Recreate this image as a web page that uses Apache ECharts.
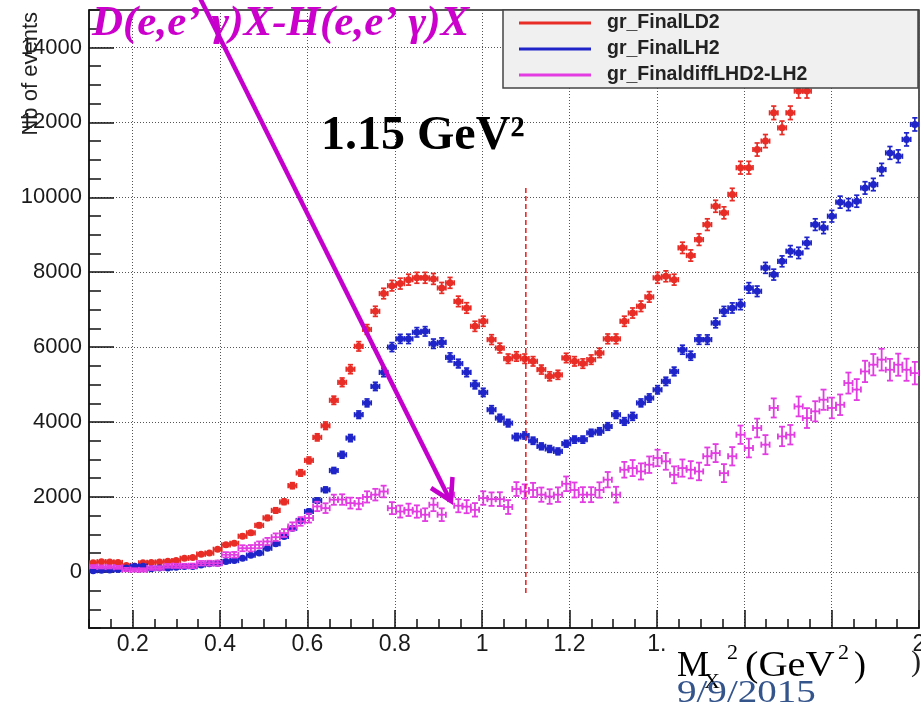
<!DOCTYPE html>
<html><head><meta charset="utf-8">
<script src="https://cdn.jsdelivr.net/npm/echarts@6/dist/echarts.min.js"></script>
<style>html,body{margin:0;padding:0;background:#fff}#c{width:921px;height:707px}</style>
</head><body><div id="c"></div>
<script>
// Bin centres of M_X^2 (GeV^2)
const binCenters = [0.1095,0.1285,0.1475,0.1665,0.1855,0.2045,0.2235,0.2425,0.2615,0.2805,
0.2995,0.3185,0.3375,0.3565,0.3755,0.3945,0.4135,0.4325,0.4515,0.4705,
0.4895,0.5085,0.5275,0.5465,0.5655,0.5845,0.6035,0.6225,0.6415,0.6605,
0.6795,0.6985,0.7175,0.7365,0.7555,0.7745,0.7935,0.8125,0.8315,0.8505,
0.8695,0.8885,0.9075,0.9265,0.9455,0.9645,0.9835,1.0025,1.0215,1.0405,
1.0595,1.0785,1.0975,1.1165,1.1355,1.1545,1.1735,1.1925,1.2115,1.2305,
1.2495,1.2685,1.2875,1.3065,1.3255,1.3445,1.3635,1.3825,1.4015,1.4205,
1.4395,1.4585,1.4775,1.4965,1.5155,1.5345,1.5535,1.5725,1.5915,1.6105,
1.6295,1.6485,1.6675,1.6865,1.7055,1.7245,1.7435,1.7625,1.7815,1.8005,
1.8195,1.8385,1.8575,1.8765,1.8955,1.9145,1.9335,1.9525,1.9715,1.9905];
const binHalfWidth = 0.0095;

const ld2 = [240,270,260,250,170,150,240,250,260,280,
300,360,380,470,500,600,720,760,950,1040,
1240,1440,1640,1870,2300,2640,2975,3590,3900,4580,
5060,5410,6020,6470,6955,7430,7640,7695,7800,7850,
7850,7820,7580,7715,7220,7045,6555,6690,6200,5975,
5690,5750,5690,5620,5400,5220,5260,5710,5620,5560,
5665,5845,6220,6220,6690,6910,7090,7340,7850,7890,
7800,8650,8445,8870,9270,9760,9585,10075,10790,10790,
11275,11500,12255,11855,12255,12835,12835,13555,13780,13870,
14330,14845,14760,15600,15870,16405,16580,16625,16940,17250];
const ld2Err = [25,25,25,25,20,20,25,25,25,25,
30,30,30,35,35,40,45,45,50,55,
60,65,70,75,80,85,90,95,100,110,
115,120,125,130,135,140,140,145,145,145,
145,145,145,145,140,140,135,135,130,130,
125,125,125,125,120,120,120,125,125,125,
125,125,130,130,135,135,140,140,145,145,
145,150,150,155,155,160,160,165,170,170,
175,175,180,180,180,185,185,190,190,195,
195,200,200,205,205,210,210,215,215,220];

const lh2 = [30,40,50,60,100,150,150,80,100,100,
120,140,140,185,215,230,275,300,365,445,
500,630,750,945,1165,1370,1610,1905,2190,2705,
3125,3570,4195,4510,4950,5325,6000,6220,6220,6395,
6420,6090,6125,5725,5560,5325,4995,4790,4330,4105,
3970,3600,3640,3500,3350,3280,3215,3420,3530,3530,
3710,3750,3880,4195,4015,4150,4510,4640,4860,5085,
5350,5930,5770,6200,6200,6645,6955,7045,7135,7580,
7490,8115,7935,8290,8560,8515,8780,9270,9185,9495,
9870,9805,9895,10250,10340,10740,11185,11095,11545,11945];
const lh2Err = [15,15,15,15,15,20,20,15,15,15,
20,20,20,20,25,25,25,30,30,35,
35,40,45,50,55,60,65,70,75,80,
90,95,100,105,110,115,120,120,125,125,
125,125,120,120,115,115,110,110,105,100,
100,95,95,95,90,90,90,90,95,95,
95,95,100,100,100,105,105,110,110,110,
115,120,120,125,125,130,130,135,135,140,
140,145,145,145,150,150,150,155,155,155,
160,160,160,165,165,165,170,170,175,175];

const diffLD2LH2 = [140,130,130,120,60,50,50,100,100,160,
160,160,160,230,230,230,455,455,630,630,
720,810,925,1035,1210,1345,1435,1745,1700,1925,
1930,1835,1820,2000,2060,2145,1700,1610,1655,1610,
1525,1790,1525,2060,1765,1740,1655,1970,1940,1940,
1730,2210,2145,2185,2060,2010,2060,2350,2185,2060,
2060,2185,2460,2060,2725,2770,2680,2860,3040,2950,
2590,2770,2725,2680,3085,3170,2635,3085,3660,3305,
3840,3395,4375,3615,3660,4415,4105,4285,4595,4375,
4460,5040,4865,5350,5530,5665,5395,5530,5395,5305];
const diffErr = [40,40,40,40,45,45,45,50,50,50,
55,55,60,60,65,70,70,75,80,85,
90,95,100,105,110,115,120,125,130,135,
140,145,150,150,155,155,160,160,165,165,
170,170,170,175,175,175,180,180,180,185,
185,185,190,190,190,195,195,195,200,200,
200,205,205,210,210,215,215,220,220,225,
225,230,230,235,235,240,240,245,245,250,
250,255,255,260,260,265,265,270,270,275,
275,280,280,285,285,290,290,295,295,300];

const seriesNames = ['gr_FinalLD2', 'gr_FinalLH2', 'gr_FinaldiffLHD2-LH2'];
const xTickValues = [0.2,0.4,0.6,0.8,1.0,1.2,1.4,1.6,1.8,2.0];
const xTickLabels = ['0.2','0.4','0.6','0.8','1','1.2','1.','','','2'];
const yTickValues = [0,2000,4000,6000,8000,10000,12000,14000];
const yTickLabels = ['0','2000','4000','6000','8000','10000','12000','14000'];
const cutLineX = [1.1, 1.1];
const cutLineY = [10250, -620];

const RED = 'rgb(232,44,38)', BLUE = 'rgb(30,36,200)', MAG = 'rgb(226,60,226)';

function errRender(color, lw, cap, r) {
  return function (params, api) {
    const x = api.value(0), y = api.value(1), e = api.value(2);
    const c = api.coord([x, y]);
    const xl = api.coord([x - binHalfWidth, y])[0];
    const xr = api.coord([x + binHalfWidth, y])[0];
    const yt = api.coord([x, y + e])[1];
    const yb = api.coord([x, y - e])[1];
    const L = (x1, y1, x2, y2) => ({ type: 'line', shape: { x1, y1, x2, y2 }, style: { stroke: color, lineWidth: lw } });
    const ch = [
      L(xl, c[1], xr, c[1]),
      L(c[0], yt, c[0], yb),
      L(xl, c[1] - cap, xl, c[1] + cap),
      L(xr, c[1] - cap, xr, c[1] + cap),
      L(c[0] - cap, yt, c[0] + cap, yt),
      L(c[0] - cap, yb, c[0] + cap, yb)
    ];
    if (r) ch.push({ type: 'circle', shape: { cx: c[0], cy: c[1], r }, style: { fill: color } });
    return { type: 'group', children: ch };
  };
}
function pts(vals, errs) { return binCenters.map((x, i) => [x, vals[i], errs[i]]); }
function lookup(vals, labels, v) {
  for (let k = 0; k < vals.length; k++) if (Math.abs(vals[k] - v) < 1e-6) return labels[k];
  return '';
}

const chart = echarts.init(document.getElementById('c'), null, { renderer: 'canvas' });
const sansFont = 'Liberation Sans';
const serif = '"Liberation Serif", "Times New Roman", serif';

chart.setOption({
  animation: false,
  backgroundColor: '#fff',
  grid: { left: 89, right: 2, top: 10, bottom: 79, show: true, borderColor: '#222', borderWidth: 1.5, backgroundColor: '#fff', containLabel: false, outerBoundsMode: 'none' },
  legend: {
    show: true, orient: 'vertical', left: 519, top: 13, padding: 0,
    itemWidth: 72, itemHeight: 3, itemGap: 6, icon: 'rect', selectedMode: false,
    textStyle: { fontFamily: sansFont, fontSize: 19.5, fontWeight: 'bold', color: '#222', padding: [0, 0, 0, 11] },
    data: seriesNames
  },
  xAxis: [
    { type: 'value', min: 0.1, max: 2.0, position: 'bottom',
      axisLine: { show: true, onZero: false, lineStyle: { color: '#111', width: 1.5 } },
      axisTick: { show: true, inside: true, length: 18, customValues: xTickValues, lineStyle: { color: '#111', width: 1.5 } },
      axisLabel: { show: true, customValues: xTickValues, showMinLabel: true, showMaxLabel: true, hideOverlap: false,
        formatter: v => lookup(xTickValues, xTickLabels, v), margin: 5, color: '#1a1a1a', fontSize: 23, fontFamily: sansFont },
      splitLine: { show: true, lineStyle: { color: '#555', type: [1, 2], width: 1 } } },
    { type: 'value', min: 0.1, max: 2.0, interval: 0.05, position: 'bottom',
      axisLine: { show: false, onZero: false }, axisLabel: { show: false }, splitLine: { show: false },
      axisTick: { show: true, inside: true, length: 9, lineStyle: { color: '#111', width: 1.5 } } }
  ],
  yAxis: [
    { type: 'value', min: -1500, max: 15000, position: 'left',
      axisLine: { show: true, onZero: false, lineStyle: { color: '#111', width: 1.5 } },
      axisTick: { show: true, inside: true, length: 25, customValues: yTickValues, lineStyle: { color: '#111', width: 1.5 } },
      axisLabel: { show: true, customValues: yTickValues, showMinLabel: true, showMaxLabel: true, hideOverlap: false,
        formatter: v => lookup(yTickValues, yTickLabels, v), margin: 7, color: '#1a1a1a', fontSize: 22, fontFamily: sansFont },
      splitLine: { show: true, lineStyle: { color: '#555', type: [1, 2], width: 1 } } },
    { type: 'value', min: -1500, max: 15000, interval: 500, position: 'left',
      axisLine: { show: false, onZero: false }, axisLabel: { show: false }, splitLine: { show: false },
      axisTick: { show: true, inside: true, length: 12, lineStyle: { color: '#111', width: 1.5 } } }
  ],
  series: [
    { name: seriesNames[0], type: 'custom', clip: true, xAxisIndex: 0, yAxisIndex: 0, itemStyle: { color: RED },
      renderItem: errRender(RED, 1.7, 2.6, 3.5), encode: { x: 0, y: 1 }, data: pts(ld2, ld2Err) },
    { name: seriesNames[1], type: 'custom', clip: true, xAxisIndex: 0, yAxisIndex: 0, itemStyle: { color: BLUE },
      renderItem: errRender(BLUE, 1.7, 2.6, 3.5), encode: { x: 0, y: 1 }, data: pts(lh2, lh2Err) },
    { name: seriesNames[2], type: 'custom', clip: true, xAxisIndex: 0, yAxisIndex: 0, itemStyle: { color: MAG },
      renderItem: errRender(MAG, 1.8, 3, 1.3), encode: { x: 0, y: 1 }, data: pts(diffLD2LH2, diffErr) },
    { name: 'cut', type: 'line', xAxisIndex: 0, yAxisIndex: 0, symbol: 'none', silent: true, z: 3,
      lineStyle: { color: 'rgb(240,24,24)', width: 1.5, type: [5, 3] },
      data: [[cutLineX[0], cutLineY[0]], [cutLineX[1], cutLineY[1]]] }
  ],
  graphic: [
    { type: 'rect', z: 3, shape: { x: 503, y: 10, width: 415, height: 78 }, style: { fill: '#f0f0f0', stroke: '#444', lineWidth: 1.5 } },
    { type: 'text', z: 10, x: 31, y: 12, rotation: Math.PI / 2,
      style: { text: 'Nb of events', font: '22px "Liberation Sans"', fill: '#222', align: 'right', verticalAlign: 'middle' } },
    { type: 'text', z: 10, x: 92, y: 24,
      style: { text: 'D(e,e’ γ)X-H(e,e’ γ)X', font: 'italic bold 43px ' + serif, fill: 'rgb(204,0,204)', align: 'left', verticalAlign: 'middle' } },
    { type: 'text', z: 10, x: 321, y: 137,
      style: { text: '1.15 GeV²', font: 'bold 48px ' + serif, fill: '#000', align: 'left', verticalAlign: 'middle' } },
    { type: 'line', z: 10, shape: { x1: 198, y1: -6, x2: 450, y2: 500 }, style: { stroke: 'rgb(196,0,204)', lineWidth: 4.5 } },
    { type: 'polyline', z: 10, shape: { points: [[431, 488], [451, 501], [452.5, 477]] }, style: { stroke: 'rgb(196,0,204)', lineWidth: 4.5, fill: null, lineJoin: 'miter' } },
    { type: 'text', z: 10, x: 677, y: 667, style: { text: 'M', font: '36px ' + serif, fill: '#000', align: 'left', verticalAlign: 'middle' } },
    { type: 'text', z: 10, x: 704, y: 682, style: { text: 'X', font: '22px ' + serif, fill: '#000', align: 'left', verticalAlign: 'middle' } },
    { type: 'text', z: 10, x: 727, y: 653, style: { text: '2', font: '22px ' + serif, fill: '#000', align: 'left', verticalAlign: 'middle' } },
    { type: 'text', z: 10, x: 745, y: 667, scaleX: 1.12, style: { text: '(GeV', font: '36px ' + serif, fill: '#000', align: 'left', verticalAlign: 'middle' } },
    { type: 'text', z: 10, x: 838, y: 653, style: { text: '2', font: '22px ' + serif, fill: '#000', align: 'left', verticalAlign: 'middle' } },
    { type: 'text', z: 10, x: 854, y: 667, style: { text: ')', font: '36px ' + serif, fill: '#000', align: 'left', verticalAlign: 'middle' } },
    { type: 'text', z: 10, x: 911, y: 663, style: { text: ')', font: '30px ' + serif, fill: '#222', align: 'left', verticalAlign: 'middle' } },
    { type: 'text', z: 10, x: 677, y: 694, scaleX: 1.22, style: { text: '9/9/2015', font: '32px ' + serif, fill: 'rgb(52,84,140)', align: 'left', verticalAlign: 'middle' } }
  ]
});
</script>
</body></html>
